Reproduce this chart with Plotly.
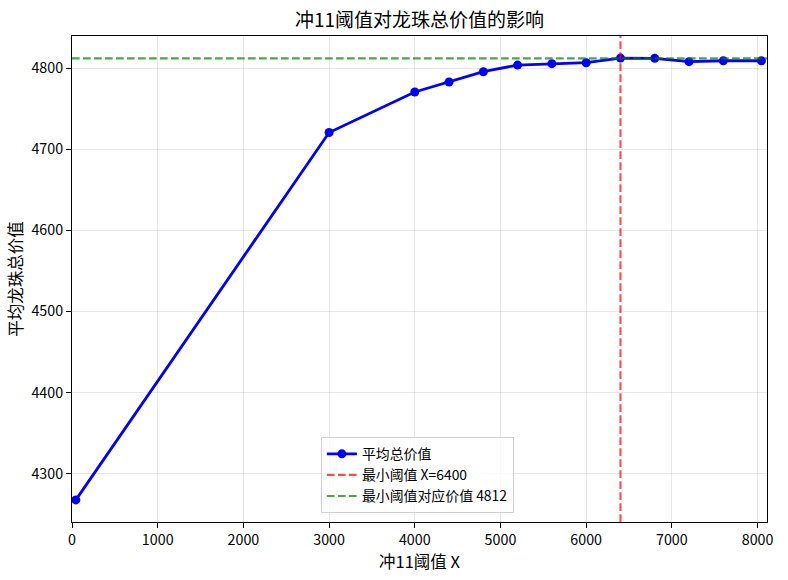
import plotly.graph_objects as go

# Data
thresholds = [45, 3000, 4000, 4400, 4800, 5200, 5600, 6000, 6400, 6800, 7200, 7600, 8045]
avg_values = [4267.6, 4720.5, 4770.5, 4782.8, 4795.5, 4803.7, 4805.4, 4806.6, 4812.3, 4812.0, 4807.9, 4809.0, 4809.0]
best_x = 6400
best_value = 4812
x_tick_vals = [0, 1000, 2000, 3000, 4000, 5000, 6000, 7000, 8000]
y_tick_vals = [4300, 4400, 4500, 4600, 4700, 4800]
x_limits = [0, 8110]

ymin, ymax = min(avg_values), max(avg_values)
span = ymax - ymin
y_limits = [ymin - 0.05 * span, ymax + 0.05 * span]

FONT = "Noto Sans CJK SC, Noto Sans, DejaVu Sans"

fig = go.Figure()
fig.add_trace(go.Scatter(
    x=thresholds, y=avg_values, mode="lines+markers", name="平均总价值",
    line=dict(color="rgb(0,0,255)", width=2.8),
    marker=dict(color="rgb(0,0,255)", size=9),
))
fig.add_trace(go.Scatter(
    x=[best_x, best_x], y=y_limits, mode="lines", name=f"最小阈值 X={best_x}",
    line=dict(color="rgba(255,0,0,0.7)", width=2.1, dash="7.7px,3.3px"),
))
fig.add_trace(go.Scatter(
    x=x_limits, y=[best_value, best_value], mode="lines", name=f"最小阈值对应价值 {best_value}",
    line=dict(color="rgba(0,128,0,0.7)", width=2.1, dash="7.7px,3.3px"),
))

axis_common = dict(
    showline=True, linecolor="black", linewidth=1, mirror=True,
    ticks="outside", ticklen=5, tickwidth=1, tickcolor="black",
    showgrid=True, gridcolor="rgba(176,176,176,0.3)", gridwidth=1,
    zeroline=False, tickfont=dict(size=14.3, color="black", family=FONT),
)

fig.update_layout(
    width=788, height=580,
    margin=dict(l=72, r=21, t=36, b=58, autoexpand=False),
    paper_bgcolor="white", plot_bgcolor="white",
    font=dict(family=FONT, color="black"),
    title=dict(text="冲11阈值对龙珠总价值的影响", x=(72 + 767) / 2 / 788, xanchor="center",
               y=1 - 20 / 580, yanchor="middle", yref="container",
               font=dict(size=19, color="black", family=FONT)),
    xaxis=dict(range=x_limits, tickvals=x_tick_vals,
               title=dict(text="冲11阈值 X", standoff=6, font=dict(size=16.5, family=FONT)),
               **axis_common),
    yaxis=dict(range=y_limits, tickvals=y_tick_vals,
               title=dict(text="平均龙珠总价值", standoff=4, font=dict(size=16.5, family=FONT)),
               **axis_common),
    legend=dict(x=(321 - 72) / 695.3, y=8.7 / 485.7, xanchor="left", yanchor="bottom",
                bgcolor="rgba(255,255,255,0.8)", bordercolor="#d0d0d0", borderwidth=1,
                font=dict(size=13.9, family=FONT), itemwidth=30, tracegroupgap=0),
    showlegend=True,
)

fig.write_html("out.html", config={"displayModeBar": False},
               post_script="document.body.style.margin='0';document.body.style.padding='0';")
